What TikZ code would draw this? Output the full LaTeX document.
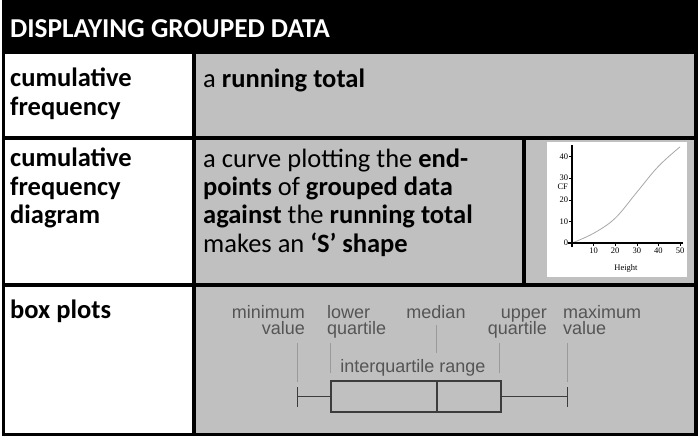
\documentclass[tikz,border=0pt]{standalone}
\usepackage{fontspec}
\setmainfont{Carlito}
\newfontfamily\boxfont{Liberation Sans}
\newfontfamily\plotfont{Liberation Serif}
\newcommand\tightlines{\lineskiplimit=-20pt\relax\lineskip=0pt\relax}
\definecolor{cellgrey}{HTML}{C0C0C0}
\definecolor{boxtext}{HTML}{555555}
\definecolor{boxline}{HTML}{3C3C3C}
\definecolor{guidegrey}{HTML}{9A9A9A}
\definecolor{curvegrey}{HTML}{A8A8A8}

\begin{document}
\begin{tikzpicture}[x=1pt, y=-1pt,
    rule/.style={line width=3.5pt, black},
    celltext/.style={font=\fontsize{26.5}{28.3}\selectfont, align=left, inner sep=0pt, anchor=base west},
    rowlabel/.style={celltext, font=\bfseries\fontsize{26.5}{28.3}\selectfont},
    boxlabel/.style={font=\boxfont\fontsize{18}{16.5}\selectfont\tightlines, text=boxtext, inner sep=0pt},
    guide/.style={guidegrey, line width=1pt},
    boxstroke/.style={boxline, line width=1.6pt},
    ticklabel/.style={font=\plotfont\fontsize{8.5}{9}\selectfont, inner sep=1pt}]
    \useasboundingbox (0,0) rectangle (698,442);

    % Cell fills
    \fill[black] (2,1) rectangle (697,54);
    \fill[cellgrey] (194,54) rectangle (696,434);
    \fill[white] (547,142) rectangle (687,277);

    % Table rules
    \coordinate (TL) at (3.5,2);
    \coordinate (BR) at (696,434.5);
    \draw[rule] (TL) rectangle (BR);
    \draw[rule] (194,54) -- (194,434.5);
    \draw[rule] (3.5,138) -- (696,138);
    \draw[rule] (3.5,285) -- (696,285);
    \draw[rule] (524,138) -- (524,285);

    % Header (multi-line nodes sit on the baseline of their last line)
    \node[rowlabel, text=white, font=\bfseries\fontsize{27.3}{28.3}\selectfont] (title) at (10,37) {DISPLAYING GROUPED DATA};

    % Row labels
    \node[rowlabel] (cf) at (10,115) {cumulative\\frequency};
    \node[rowlabel] (cfd) at (10,223.5) {cumulative\\frequency\\diagram};
    \node[rowlabel] (bp) at (10,318) {box plots};

    % Definitions
    \node[celltext] (cfdef) at (203,87) {a \textbf{running total}};
    \node[celltext] (cfddef) at (203,252) {a curve plotting the \textbf{end-}\\\textbf{points} of \textbf{grouped data}\\\textbf{against} the \textbf{running total}\\makes an \textbf{‘S’ shape}};

    % Cumulative frequency plot
    \begin{scope}[shift={(572,243)}, x=2.16pt, y=2.16pt]
        \draw[curvegrey, line width=0.8pt] plot[smooth, tension=0.6] coordinates {(0,0) (10,4.5) (20,11.5) (30,23.5) (40,35.5) (50,44.5)};
        \draw[black, line width=1.6pt] (-2,0) -- (51.5,0);
        \draw[black, line width=1.6pt] (0,-2) -- (0,45.5);
        \foreach \t in {0,10,20,30,40} {
            \draw[black, line width=0.6pt] (0,\t) -- (-1.2,\t);
            \node[ticklabel, anchor=east] (yt\t) at (-1.2,\t) {\t};
        }
        \foreach \t in {10,20,30,40,50} {
            \draw[black, line width=0.6pt] (\t,0) -- (\t,-1.2);
            \node[ticklabel, anchor=north] (xt\t) at (\t,-1.8) {\t};
        }
        \node[ticklabel] (cflabel) at (-4.3,26) {CF};
        \node[ticklabel] (hlabel) at (25,-12) {Height};
    \end{scope}

    % Box plot labels
    \node[boxlabel, anchor=base east, align=right] (minlab) at (305,334.5) {minimum\\value};
    \node[boxlabel, anchor=base west, align=left] (lqlab) at (327,334.5) {lower\\quartile};
    \node[boxlabel, anchor=base] (medlab) at (436,318) {median};
    \node[boxlabel, anchor=base east, align=right] (uqlab) at (547,334.5) {upper\\quartile};
    \node[boxlabel, anchor=base west, align=left] (maxlab) at (563,334.5) {maximum\\value};
    \node[boxlabel, anchor=base] (iqr) at (413,372) {interquartile range};

    % Guide lines
    \draw[guide] (297.5,343) -- (297.5,382);
    \draw[guide] (330,343) -- (330,373);
    \draw[guide] (436,325) -- (436,353);
    \draw[guide] (499.5,343) -- (499.5,373);
    \draw[guide] (567.5,343) -- (567.5,382);

    % Box and whiskers
    \coordinate (wmin) at (297.5,396.5);
    \coordinate (wmax) at (567.5,396.5);
    \draw[boxstroke] (331,381) rectangle (501,412);
    \draw[boxstroke] (437,381) -- (437,412);
    \draw[boxstroke] (wmin) -- (331,396.5);
    \draw[boxstroke] (501,396.5) -- (wmax);
    \draw[boxstroke] ([yshift=-10pt]wmin) -- ([yshift=10pt]wmin);
    \draw[boxstroke] ([yshift=-10pt]wmax) -- ([yshift=10pt]wmax);
\end{tikzpicture}
\end{document}
